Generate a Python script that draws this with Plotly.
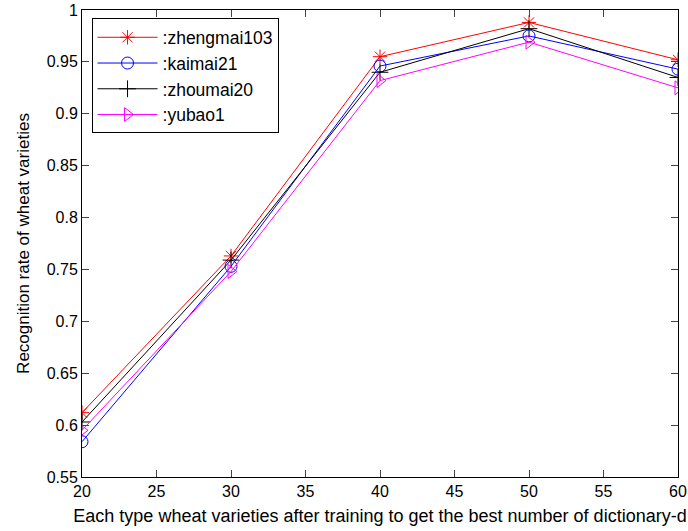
import plotly.graph_objects as go

x_vals = [20, 30, 40, 50, 60]
zhengmai103 = [0.612, 0.763, 0.955, 0.988, 0.952]
kaimai21 = [0.584, 0.753, 0.946, 0.975, 0.943]
zhoumai20 = [0.603, 0.759, 0.940, 0.982, 0.935]
yubao1 = [0.595, 0.748, 0.932, 0.969, 0.925]

series_names = [":zhengmai103", ":kaimai21", ":zhoumai20", ":yubao1"]
series_vals = [zhengmai103, kaimai21, zhoumai20, yubao1]
colors = ["#FF0000", "#0000FF", "#000000", "#FF00FF"]
symbols = ["asterisk-open", "circle-open", "cross-thin-open", "triangle-right-open"]

y_ticks = [0.55, 0.6, 0.65, 0.7, 0.75, 0.8, 0.85, 0.9, 0.95, 1]
y_tick_labels = ["0.55", "0.6", "0.65", "0.7", "0.75", "0.8", "0.85", "0.9", "0.95", "1"]
x_ticks = [20, 25, 30, 35, 40, 45, 50, 55, 60]

fig = go.Figure()
for name, vals, c, s in zip(series_names, series_vals, colors, symbols):
    fig.add_trace(go.Scatter(
        x=x_vals, y=vals, name=name, mode="lines+markers",
        line=dict(color=c, width=1),
        marker=dict(symbol=s, size=12, color=c, line=dict(color=c, width=1)),
    ))

fig.update_layout(
    width=688, height=531,
    margin=dict(l=82, r=10, t=10, b=54),
    paper_bgcolor="white", plot_bgcolor="white",
    font=dict(family="Liberation Sans, Arial", size=16, color="black"),
    showlegend=True,
    legend=dict(
        x=0.016, y=0.982, xanchor="left", yanchor="top",
        bgcolor="white", bordercolor="black", borderwidth=1,
        font=dict(size=17.5), itemwidth=60, tracegroupgap=4,
    ),
)
fig.update_xaxes(
    range=[20, 60], tickvals=x_ticks, ticks="inside", ticklen=7,
    showline=True, linecolor="black", linewidth=1, mirror="ticks",
    showgrid=False, zeroline=False, tickfont=dict(size=16), automargin=False,
    title=dict(text="Each type wheat varieties after training to get the best number of dictionary-d",
               font=dict(size=18), standoff=10),
)
fig.update_yaxes(
    range=[0.55, 1], tickvals=y_ticks, ticktext=y_tick_labels, ticks="inside", ticklen=7,
    showline=True, linecolor="black", linewidth=1, mirror="ticks",
    showgrid=False, zeroline=False, tickfont=dict(size=16), automargin=False,
    title=dict(text="Recognition rate of wheat varieties", font=dict(size=17), standoff=12),
)

fig.write_html("out.html", config={"displayModeBar": False},
               post_script="document.body.style.margin='0';")
